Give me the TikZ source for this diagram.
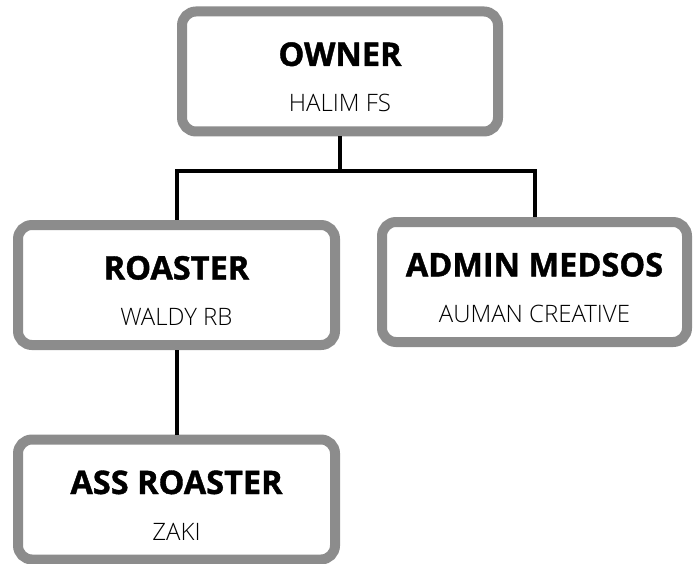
\documentclass[tikz,border=0pt]{standalone}
\usepackage{fontspec}
\setmainfont{Open Sans}
\newfontfamily\namefont{Open Sans Light}
\newfontfamily\titlefont[BoldFeatures={FakeBold=1.2}]{Open Sans}
\definecolor{boxgrey}{RGB}{140,140,140}
\tikzset{
  orgbox/.style={draw=boxgrey, line width=10pt, rounded corners=14pt,
    fill=white, minimum height=120pt, align=center,
    font=\fontsize{24}{46}\selectfont},
  orgline/.style={draw=black, line width=4pt}
}
\newcommand{\orgtitle}[1]{{\fontsize{32.5}{46}\selectfont\titlefont\bfseries\rule{0pt}{35pt}#1}}
\newcommand{\orgname}[1]{{\namefont #1}}
\begin{document}
\begin{tikzpicture}[%
    grow=down,
    level 1/.style={level distance=213.5pt, sibling distance=358pt},
    level 2/.style={level distance=214.5pt},
    edge from parent/.style={orgline},
    edge from parent path={(\tikzparentnode.south) -- ++(0,-35pt) -| (\tikzchildnode.north)}]
  \useasboundingbox (0,0) rectangle (693pt,-564pt);
  \node [orgbox, minimum width=316pt] (owner) at (340pt,-71.5pt)
    {\orgtitle{OWNER}\\\orgname{HALIM FS}}
    child [xshift=15.5pt] {node [orgbox, minimum width=317pt] (roaster)
      {\orgtitle{ROASTER}\\\orgname{WALDY RB}}
      child {node [orgbox, minimum width=317pt] (assroaster)
        {\orgtitle{ASS ROASTER}\\\orgname{ZAKI}}}}
    child [xshift=15.5pt] {node [orgbox, minimum width=305pt, yshift=3pt] (admin)
      {\orgtitle{ADMIN MEDSOS}\\\orgname{AUMAN CREATIVE}}};
\end{tikzpicture}
\end{document}
